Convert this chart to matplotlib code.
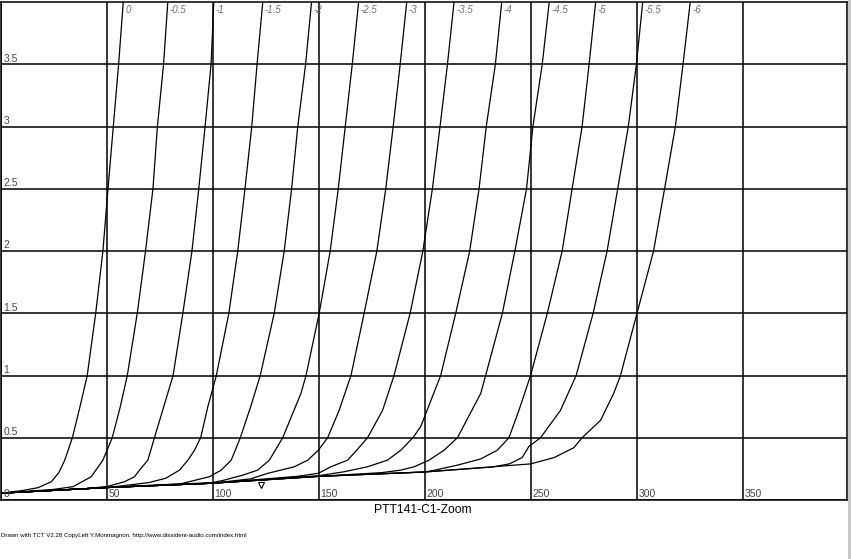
import numpy as np
import matplotlib.pyplot as plt
from matplotlib.patches import Rectangle

plt.rcParams['font.family'] = ['Liberation Sans', 'DejaVu Sans']

# grid voltages of the curves
grid_labels = ['0', '-0.5', '-1', '-1.5', '-2', '-2.5', '-3', '-3.5', '-4', '-4.5', '-5', '-5.5', '-6']

# common lower envelope (all curves overlap here)
env_va = [0, 50, 100, 150, 200, 250]
env_ia = [0.055, 0.10, 0.135, 0.19, 0.225, 0.29]

# plate voltage / current of each curve, from where it leaves the envelope
curve_va = [
    [10, 17.7, 24, 27.5, 30.3, 33.9, 37.5, 40.9, 44.9, 48.3, 50.7, 53.2, 55.7, 57.9],
    [25, 34.2, 42.8, 48.3, 52.7, 56.5, 59.8, 64.5, 68.4, 71.9, 74.0, 76.9, 78.9],
    [40, 50.7, 58.5, 63.2, 65.6, 69.5, 72.6, 77.0, 81.4, 86.0, 90.3, 93.5, 96.5, 99.3, 100.6],
    [58, 70, 78, 84.4, 88.4, 91.5, 94.4, 97.8, 101.8, 107.7, 111.9, 115.3, 118.5, 121.0, 123.7],
    [85, 98.5, 104.1, 108.8, 113.1, 118.0, 122.5, 129.1, 133.8, 137.3, 140.2, 143.9, 146.7],
    [100, 105.6, 114.3, 121.3, 126.8, 133.1, 141.7, 144.1, 150.3, 155.5, 159.3, 162.6, 165.9, 168.9],
    [118, 126, 138.6, 144.9, 149.9, 154.3, 159.7, 165.3, 171.5, 177.5, 181.7, 185.2, 188.5, 191.6],
    [140, 150, 155.8, 163.7, 168.0, 173.1, 180.2, 185.6, 193.2, 199.2, 203.7, 207.3, 210.8, 213.9],
    [150, 162.1, 173.1, 182.5, 188.8, 194.5, 198.2, 207.6, 214.7, 221.3, 225.7, 229.1, 233.4, 236.4],
    [180, 188.8, 195.1, 202.1, 209.2, 215.5, 226.5, 228.8, 236.7, 242.6, 248.1, 251.1, 255.5, 258.8],
    [205, 215.5, 226.5, 234.3, 239.8, 244.5, 250.0, 257.9, 264.9, 269.6, 274.3, 277.6, 280.7],
    [232, 240, 246, 249.2, 254.7, 264.1, 271.5, 279.5, 286.1, 291.1, 296.1, 299.9, 302.9],
    [250, 261, 270.4, 274.3, 283.0, 289.2, 292.4, 300.2, 308.0, 313.2, 318.3, 321.9, 325.3],
]
curve_ia = [
    [0.075, 0.099, 0.147, 0.22, 0.32, 0.5, 0.75, 1.0, 1.5, 2.0, 2.5, 3.0, 3.5, 4.0],
    [0.085, 0.107, 0.187, 0.32, 0.5, 0.75, 1.0, 1.5, 2.0, 2.5, 3.0, 3.5, 4.0],
    [0.09, 0.11, 0.147, 0.187, 0.241, 0.32, 0.5, 0.75, 1.0, 1.5, 2.0, 2.5, 3.0, 3.5, 4.0],
    [0.115, 0.14, 0.175, 0.24, 0.32, 0.40, 0.5, 0.75, 1.0, 1.5, 2.0, 2.5, 3.0, 3.5, 4.0],
    [0.13, 0.187, 0.24, 0.32, 0.5, 0.75, 1.0, 1.5, 2.0, 2.5, 3.0, 3.5, 4.0],
    [0.14, 0.16, 0.2, 0.24, 0.32, 0.5, 0.856, 1.0, 1.5, 2.0, 2.5, 3.0, 3.5, 4.0],
    [0.17, 0.214, 0.267, 0.32, 0.40, 0.5, 0.72, 1.0, 1.5, 2.0, 2.5, 3.0, 3.5, 4.0],
    [0.19, 0.215, 0.267, 0.32, 0.40, 0.5, 0.72, 1.0, 1.5, 2.0, 2.5, 3.0, 3.5, 4.0],
    [0.195, 0.227, 0.267, 0.32, 0.40, 0.5, 0.59, 1.0, 1.5, 2.0, 2.5, 3.0, 3.5, 4.0],
    [0.22, 0.24, 0.267, 0.32, 0.40, 0.5, 0.856, 1.0, 1.5, 2.0, 2.5, 3.0, 3.5, 4.0],
    [0.24, 0.28, 0.33, 0.40, 0.5, 0.72, 1.0, 1.5, 2.0, 2.5, 3.0, 3.5, 4.0],
    [0.265, 0.29, 0.34, 0.43, 0.5, 0.72, 1.0, 1.5, 2.0, 2.5, 3.0, 3.5, 4.0],
    [0.29, 0.34, 0.42, 0.5, 0.64, 0.856, 1.0, 1.5, 2.0, 2.5, 3.0, 3.5, 4.0],
]

# small operating point marker
op_va = [122.9]
op_ia = [0.12]

x_ticks = [0, 50, 100, 150, 200, 250, 300, 350]
y_ticks = [0, 0.5, 1, 1.5, 2, 2.5, 3, 3.5]

fig = plt.figure(figsize=(8.51, 5.59), dpi=100)
ax = fig.add_axes([0.5 / 851, 59 / 559, 846 / 851, 498 / 559])
ax.set_xlim(0, 399)
ax.set_ylim(0, 4)

ax.set_xticks(x_ticks)
ax.set_yticks(y_ticks)
ax.grid(True, color='black', linewidth=1.1)
ax.tick_params(length=0, labelbottom=False, labelleft=False)
for s in ax.spines.values():
    s.set_linewidth(1.1)

for v in x_ticks[1:]:
    ax.annotate(str(v), (v, 0), xytext=(1.5, 0.5), textcoords='offset points',
                ha='left', va='bottom', fontsize=7.5, color='#484848')
for v in y_ticks:
    ax.annotate(f'{v:g}', (0, v), xytext=(2, 0.5), textcoords='offset points',
                ha='left', va='bottom', fontsize=7.5, color='#484848')

for lab, va, ia in zip(grid_labels, curve_va, curve_ia):
    pre_v = [v for v in env_va if v < va[0]]
    pre_i = [i for v, i in zip(env_va, env_ia) if v < va[0]]
    ax.plot(pre_v + va, pre_i + ia, color='black', linewidth=0.9)
    ax.annotate(lab, (va[-1], 4), xytext=(1.5, -2), textcoords='offset points',
                ha='left', va='top', fontsize=7, style='italic', color='#707070')

ax.plot(op_va, op_ia, marker='v', markersize=5, markerfacecolor='white',
        markeredgecolor='black', markeredgewidth=0.8, linestyle='none')

fig.text(423 / 851, 1 - 510 / 559, 'PTT141-C1-Zoom', ha='center', va='center', fontsize=8.7)
fig.text(1 / 851, 1 - 535 / 559,
         'Drawn with TCT V2.28 CopyLeft Y.Monmagnon. http://www.dissident-audio.com/index.html',
         ha='left', va='center', fontsize=4.4)

# grey strip at the right edge
fig.patches.append(Rectangle((848 / 851, 0), 3 / 851, 1, transform=fig.transFigure,
                             facecolor='#c8c8c8', edgecolor='none', zorder=5))

fig.savefig('out.png', dpi=100)
